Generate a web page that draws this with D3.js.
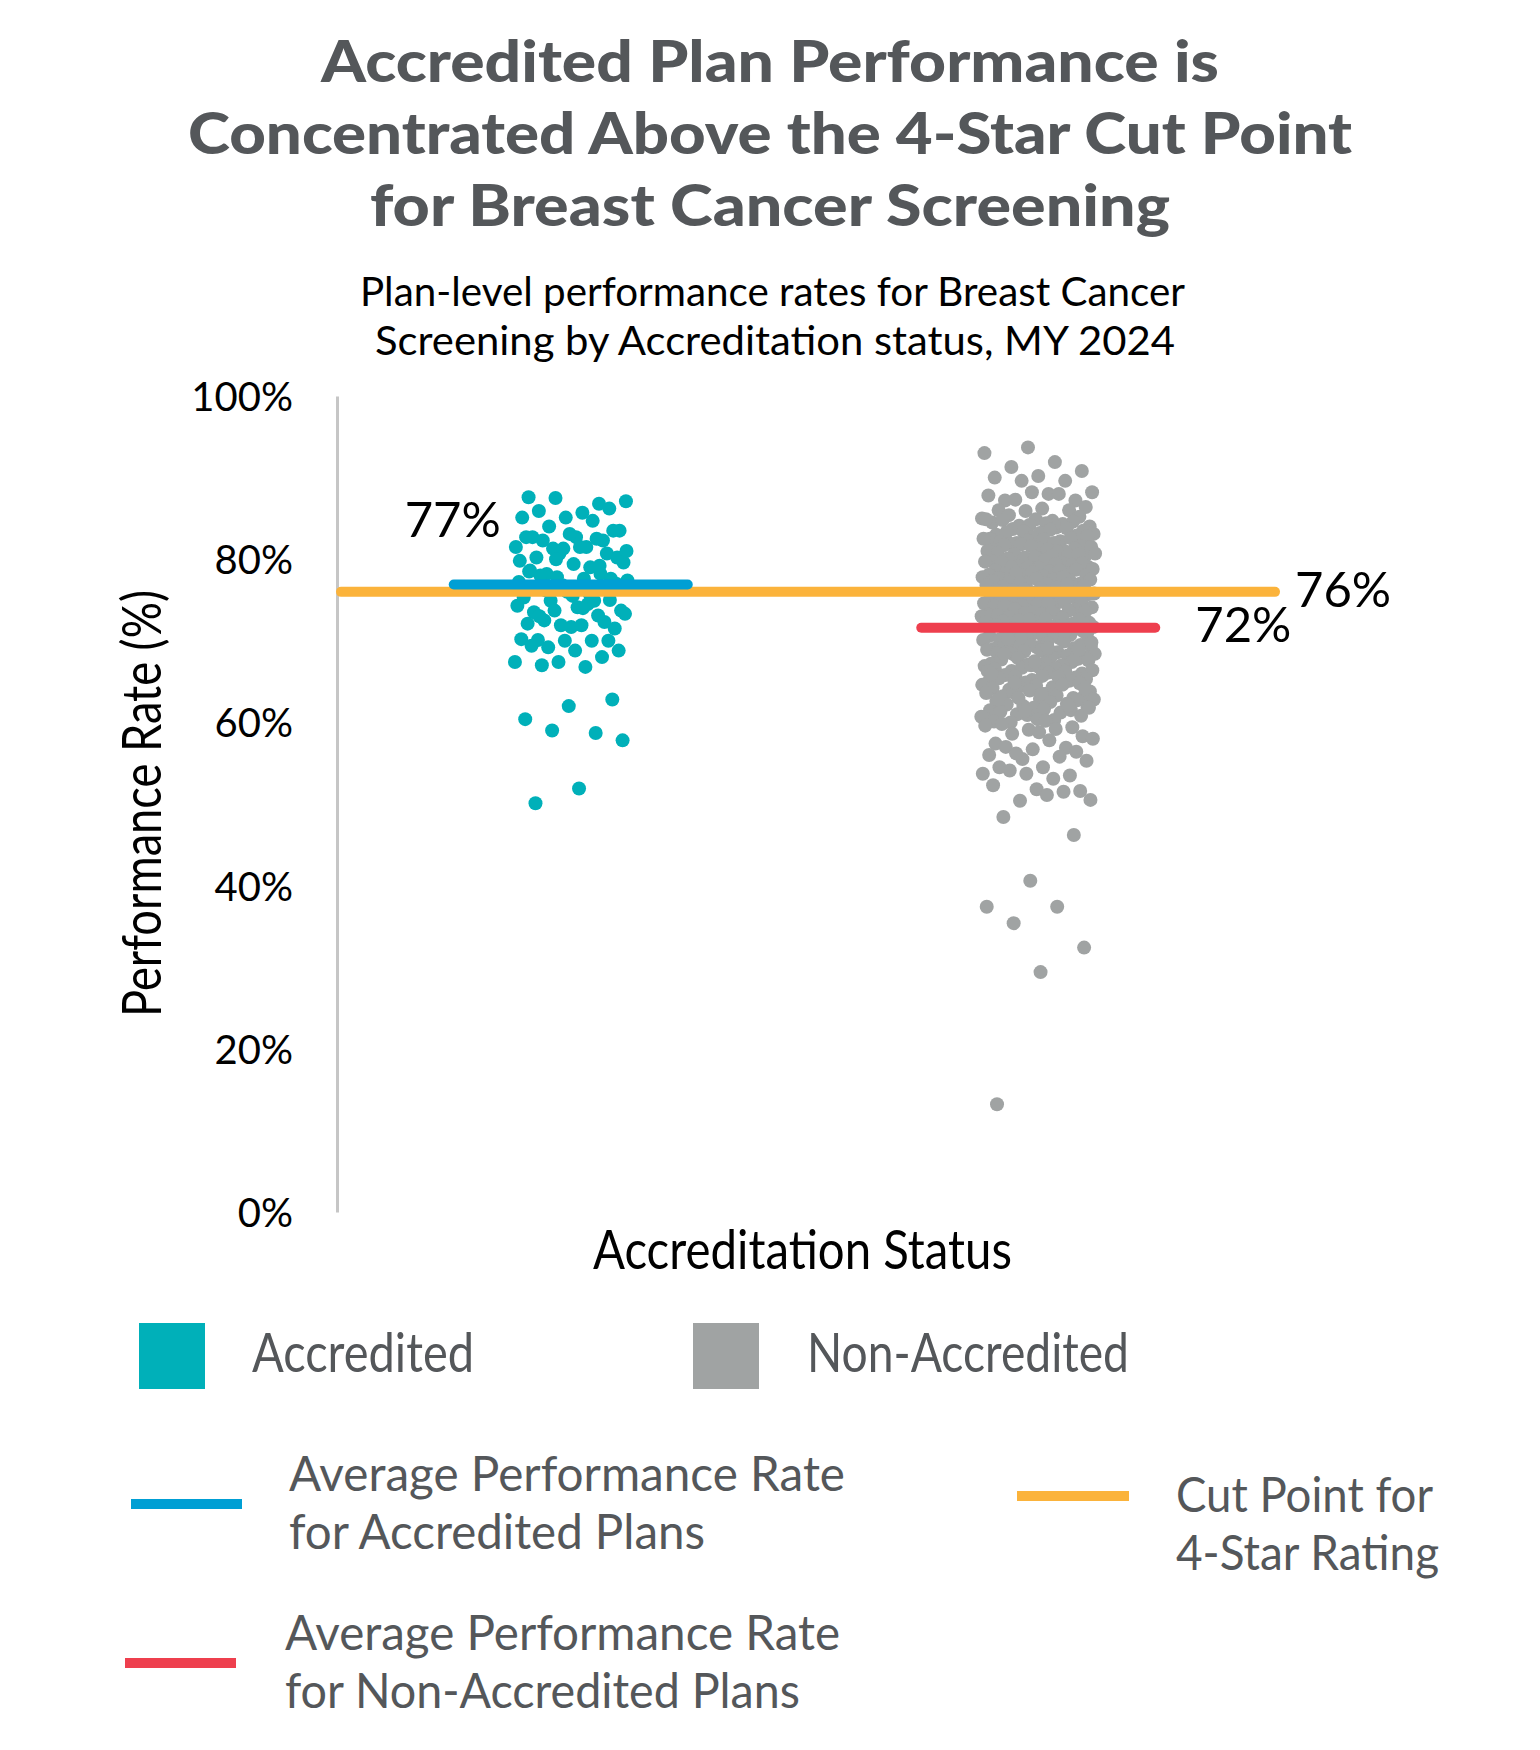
<!DOCTYPE html>
<html>
<head>
<meta charset="utf-8">
<script src="https://cdn.jsdelivr.net/npm/d3@7"></script>
<style>
  body { margin: 0; background: #fff; }
  text { font-family: Lato, "Noto Sans", sans-serif; }
</style>
</head>
<body>
<div id="chart"></div>
<script>
// chart values
var categories = ["Accredited", "Non-Accredited"];

var accreditedRates = [
  87.6, 86.8, 87.5, 87.1, 85.7, 85.9, 86.2, 85.1, 85.1, 84.7, 84.0, 83.5,
  82.7, 82.7, 82.3, 80.7, 81.5, 81.5, 82.3, 83.5, 83.1, 82.7, 82.5, 81.3,
  79.6, 81.5, 80.2, 80.7, 81.3, 79.8, 79.0, 78.2, 80.2, 79.4, 78.6, 78.2,
  77.8, 77.4, 77.6, 78.0, 77.6, 76.0, 75.3, 74.9, 74.9, 73.7, 74.1, 73.5,
  72.3, 71.9, 74.3, 74.5, 72.5, 71.5, 71.7, 72.1, 73.1, 73.7, 73.3, 71.9,
  70.1, 70.0, 70.0, 70.2, 70.0, 69.2, 68.8, 68.8, 69.4, 68.0, 67.4, 67.4,
  66.8, 67.0, 62.8, 62.0, 60.4, 58.7, 59.0, 57.8, 51.9, 50.1,
  76.5, 76.8, 77.2, 75.8, 76.2, 77.0, 75.5, 78.5, 79.2, 80.0, 81.0, 74.0,
  73.0, 75.0, 76.6
];

var nonAccreditedRates = [
  93.7, 93.0, 91.9, 91.3, 90.8, 90.2, 90.0, 89.6, 89.6, 88.2, 88.0, 87.2,
  87.2, 88.2, 87.8, 88.0, 87.3, 86.4, 86.2, 86.0, 86.0, 85.9, 85.0, 84.7,
  85.4, 85.2, 84.9, 84.5,
  84.3, 84.1, 84.0, 84.4, 84.8, 84.6, 84.2, 84.9,
  83.9, 83.7, 83.5, 83.2, 83.0, 83.8, 83.4, 83.1, 83.6, 83.3,
  82.9, 82.7, 82.5, 82.2, 82.0, 82.8, 82.4, 82.1, 82.6, 82.3, 82.5, 82.0,
  81.9, 81.6, 81.4, 81.1, 81.0, 81.8, 81.5, 81.2, 81.7, 81.3, 81.6, 81.0,
  80.9, 80.6, 80.3, 80.0, 80.8, 80.5, 80.2, 80.7, 80.4, 80.1, 80.6, 80.3,
  79.8, 79.5, 79.2, 79.0, 79.9, 79.6, 79.3, 79.1, 79.7, 79.4, 79.0, 79.5,
  78.9, 78.6, 78.3, 78.0, 78.8, 78.5, 78.2, 78.7, 78.4, 78.1, 78.6, 78.3, 78.0,
  77.9, 77.7, 77.4, 77.1, 77.8, 77.5, 77.2, 77.0, 77.6, 77.3, 77.8, 77.1, 77.5,
  76.9, 76.6, 76.3, 76.0, 76.8, 76.5, 76.2, 76.7, 76.4, 76.1, 76.9, 76.3,
  75.8, 75.5, 75.2, 75.0, 75.9, 75.6, 75.3, 75.1, 75.7, 75.4, 75.0, 75.6,
  74.9, 74.6, 74.3, 74.0, 74.8, 74.5, 74.2, 74.7, 74.4, 74.1, 74.6, 74.2,
  73.8, 73.5, 73.2, 73.0, 73.9, 73.6, 73.3, 73.1, 73.7, 73.4, 73.0, 73.5,
  72.9, 72.6, 72.3, 72.0, 72.8, 72.5, 72.2, 72.7, 72.4, 72.1, 72.6, 72.3,
  71.8, 71.5, 71.2, 71.0, 71.9, 71.6, 71.3, 71.7, 71.4, 71.1, 71.5,
  70.9, 70.6, 70.3, 70.0, 70.8, 70.5, 70.2, 70.7, 70.4, 70.1, 70.6,
  69.8, 69.5, 69.2, 69.0, 69.9, 69.6, 69.3, 69.7, 69.4, 69.1, 69.5,
  68.9, 68.6, 68.3, 68.0, 68.8, 68.5, 68.2, 68.7, 68.4, 68.1, 68.6,
  67.8, 67.5, 67.2, 67.0, 67.9, 67.6, 67.3, 67.7, 67.4, 67.1,
  66.9, 66.6, 66.3, 66.0, 66.8, 66.5, 66.2, 66.7, 66.4, 66.1,
  65.8, 65.5, 65.2, 65.0, 65.9, 65.6, 65.3, 65.7, 65.4, 65.1,
  64.9, 64.6, 64.3, 64.0, 64.8, 64.5, 64.2, 64.7, 64.4,
  63.8, 63.5, 63.2, 63.0, 63.9, 63.6, 63.3, 63.7, 63.1,
  62.9, 62.6, 62.3, 62.0, 62.8, 62.5, 62.2, 62.7,
  61.8, 61.5, 61.2, 61.0, 61.9, 61.6, 61.3, 61.5,
  60.9, 60.6, 60.3, 60.0, 60.8, 60.4, 60.1,
  71.2, 70.5, 69.8, 69.1, 68.4, 67.7, 67.0, 66.3, 65.6, 64.9, 64.2, 63.5,
  62.8, 62.1, 61.4, 60.7, 71.7, 70.2, 68.9, 67.4, 66.0, 64.6, 63.0, 61.8, 60.2,
  59.8, 59.4, 59.1, 59.6, 59.2, 58.6, 58.3, 58.8, 57.4, 56.9, 55.5,
  58.0, 57.8, 57.0, 56.4, 56.7, 56.0, 55.8, 56.2, 55.3, 54.5, 54.5, 53.5,
  53.7, 53.7, 53.1, 54.1, 51.6, 51.8, 52.3, 51.5, 50.4, 50.5, 51.1, 48.4, 46.2,
  40.6, 37.4, 37.4, 35.4, 32.4, 29.4, 13.2
];

var averageRates = [76.9, 71.6];   // Accredited, Non-Accredited
var cutPoint = 76;
var yTicks = [0, 20, 40, 60, 80, 100];

var titleLines = ["Accredited Plan Performance is",
                  "Concentrated Above the 4-Star Cut Point",
                  "for Breast Cancer Screening"];
var subtitleLines = ["Plan-level performance rates for Breast Cancer",
                     "Screening by Accreditation status, MY 2024"];
var yTitle = "Performance Rate (%)";
var xTitle = "Accreditation Status";
var avgLegendLines = [["Average Performance Rate", "for Accredited Plans"],
                      ["Average Performance Rate", "for Non-Accredited Plans"]];
var cutLegendLines = ["Cut Point for", "4-Star Rating"];

// colours
var dotColor = {"Accredited": "#00b0b9", "Non-Accredited": "#a0a3a3"};
var avgColor = {"Accredited": "#009fd4", "Non-Accredited": "#ee3f4e"};
var cutColor = "#fbb33b";
var darkGray = "#54575a";

var W = 1540, H = 1750;
var svg = d3.select("#chart").append("svg")
    .attr("width", W).attr("height", H);

// title + subtitle (widths fitted to the reference)
var titleX = [321, 188, 370], titleW = [898, 1164, 800], titleY = [82, 154, 226];
svg.append("text")
    .style("font-size", "58px").style("font-weight", 900)
    .style("fill", darkGray)
  .selectAll("tspan").data(titleLines).enter().append("tspan")
    .attr("x", function(d, i) { return titleX[i]; })
    .attr("y", function(d, i) { return titleY[i]; })
    .attr("textLength", function(d, i) { return titleW[i]; })
    .attr("lengthAdjust", "spacingAndGlyphs")
    .text(function(d) { return d; });

var subX = [360, 375], subW = [825, 800], subY = [306, 355];
svg.append("text")
    .style("font-size", "40px").style("fill", "#000")
  .selectAll("tspan").data(subtitleLines).enter().append("tspan")
    .attr("x", function(d, i) { return subX[i]; })
    .attr("y", function(d, i) { return subY[i]; })
    .attr("textLength", function(d, i) { return subW[i]; })
    .attr("lengthAdjust", "spacingAndGlyphs")
    .text(function(d) { return d; });

// scales
var axisX = 337;
var x = d3.scaleBand().domain(categories).range([axisX, 1272]);
var y = d3.scaleLinear().domain([0, 100]).range([1212, 396]);

// y axis
var yAxis = svg.append("g")
    .attr("transform", "translate(" + axisX + ",0)")
    .call(d3.axisLeft(y).tickValues(yTicks)
          .tickFormat(function(d) { return d + "%"; })
          .tickSize(0).tickPadding(44));
yAxis.select(".domain").attr("stroke", "#c6c6c6").attr("stroke-width", 3);
yAxis.selectAll(".tick text")
    .style("font-family", "Lato, 'Noto Sans', sans-serif")
    .style("font-size", "40px").style("fill", "#000")
    .attr("dy", "0.36em");

svg.append("text")
    .attr("transform", "translate(161,803.5) rotate(-90)")
    .attr("x", -213.5)
    .attr("textLength", 427).attr("lengthAdjust", "spacingAndGlyphs")
    .style("font-size", "54px").style("fill", "#000")
    .text(yTitle);

svg.append("text")
    .attr("x", 593).attr("y", 1269)
    .attr("textLength", 419).attr("lengthAdjust", "spacingAndGlyphs")
    .style("font-size", "54px").style("fill", "#000")
    .text(xTitle);

// jittered dots, golden-ratio spread across the band
var jitter = 57;
function jitterX(cat, i) {
    var f = (i * 0.6180339887 + (cat === categories[0] ? 0.13 : 0.41)) % 1;
    return x(cat) + x.bandwidth() / 2 + (f - 0.5) * 2 * jitter;
}
var points = [];
accreditedRates.forEach(function(v, i) { points.push({cat: categories[0], v: v, i: i}); });
nonAccreditedRates.forEach(function(v, i) { points.push({cat: categories[1], v: v, i: i}); });

svg.append("g").selectAll("circle")
    .data(points).enter().append("circle")
    .attr("cx", function(d) { return jitterX(d.cat, d.i); })
    .attr("cy", function(d) { return y(d.v); })
    .attr("r", 7)
    .style("fill", function(d) { return dotColor[d.cat]; });

// cut point line
svg.append("line")
    .attr("x1", axisX + 4).attr("x2", 1275)
    .attr("y1", y(cutPoint)).attr("y2", y(cutPoint))
    .attr("stroke", cutColor).attr("stroke-width", 10)
    .attr("stroke-linecap", "round");

// average lines
svg.append("g").selectAll("line")
    .data(categories).enter().append("line")
    .attr("x1", function(d) { return x(d) + x.bandwidth() / 2 - 117; })
    .attr("x2", function(d) { return x(d) + x.bandwidth() / 2 + 117; })
    .attr("y1", function(d, i) { return y(averageRates[i]); })
    .attr("y2", function(d, i) { return y(averageRates[i]); })
    .attr("stroke", function(d) { return avgColor[d]; })
    .attr("stroke-width", 10).attr("stroke-linecap", "round");

// value labels
function pct(v) { return Math.round(v) + "%"; }
var cx0 = x(categories[0]) + x.bandwidth() / 2;
var cx1 = x(categories[1]) + x.bandwidth() / 2;
svg.append("text")
    .attr("x", cx0 - 70).attr("y", y(averageRates[0]) - 47)
    .attr("text-anchor", "end")
    .style("font-size", "49px").style("fill", "#000")
    .text(pct(averageRates[0]));
svg.append("text")
    .attr("x", cx1 + 157).attr("y", y(averageRates[1]) + 14)
    .style("font-size", "49px").style("fill", "#000")
    .text(pct(averageRates[1]));
svg.append("text")
    .attr("x", 1295).attr("y", y(cutPoint) + 15)
    .style("font-size", "49px").style("fill", "#000")
    .text(pct(cutPoint));

// legend: category swatches
var swX = [139, 693], swTextX = [252, 807], swTextW = [222, 322];
var sw = svg.append("g").selectAll("g")
    .data(categories).enter().append("g");
sw.append("rect")
    .attr("x", function(d, i) { return swX[i]; }).attr("y", 1323)
    .attr("width", 66).attr("height", 66)
    .style("fill", function(d) { return dotColor[d]; });
sw.append("text")
    .attr("x", function(d, i) { return swTextX[i]; }).attr("y", 1372)
    .attr("textLength", function(d, i) { return swTextW[i]; })
    .attr("lengthAdjust", "spacingAndGlyphs")
    .style("font-size", "54px").style("fill", darkGray)
    .text(function(d) { return d; });

// legend: average lines (two-line labels)
var lgFont = "48px", lgStep = 58;
var lgLineX = [131, 125], lgLineY = [1504, 1663];
var lgTextX = [289, 285], lgTextY = [1491, 1650];
var lgTextW = [[556, 416], [555, 515]];
categories.forEach(function(cat, i) {
    svg.append("line")
        .attr("x1", lgLineX[i]).attr("x2", lgLineX[i] + 111)
        .attr("y1", lgLineY[i]).attr("y2", lgLineY[i])
        .attr("stroke", avgColor[cat]).attr("stroke-width", 10);
    svg.append("text")
        .style("font-size", lgFont).style("fill", darkGray)
      .selectAll("tspan").data(avgLegendLines[i]).enter().append("tspan")
        .attr("x", lgTextX[i])
        .attr("y", function(t, j) { return lgTextY[i] + j * lgStep; })
        .attr("textLength", function(t, j) { return lgTextW[i][j]; })
        .attr("lengthAdjust", "spacingAndGlyphs")
        .text(function(t) { return t; });
});

// legend: cut point
svg.append("line")
    .attr("x1", 1017).attr("x2", 1129)
    .attr("y1", 1496).attr("y2", 1496)
    .attr("stroke", cutColor).attr("stroke-width", 10);
var cutW = [257, 263];
svg.append("text")
    .style("font-size", lgFont).style("fill", darkGray)
  .selectAll("tspan").data(cutLegendLines).enter().append("tspan")
    .attr("x", 1176)
    .attr("y", function(t, j) { return 1512 + j * lgStep; })
    .attr("textLength", function(t, j) { return cutW[j]; })
    .attr("lengthAdjust", "spacingAndGlyphs")
    .text(function(t) { return t; });
</script>
</body>
</html>
